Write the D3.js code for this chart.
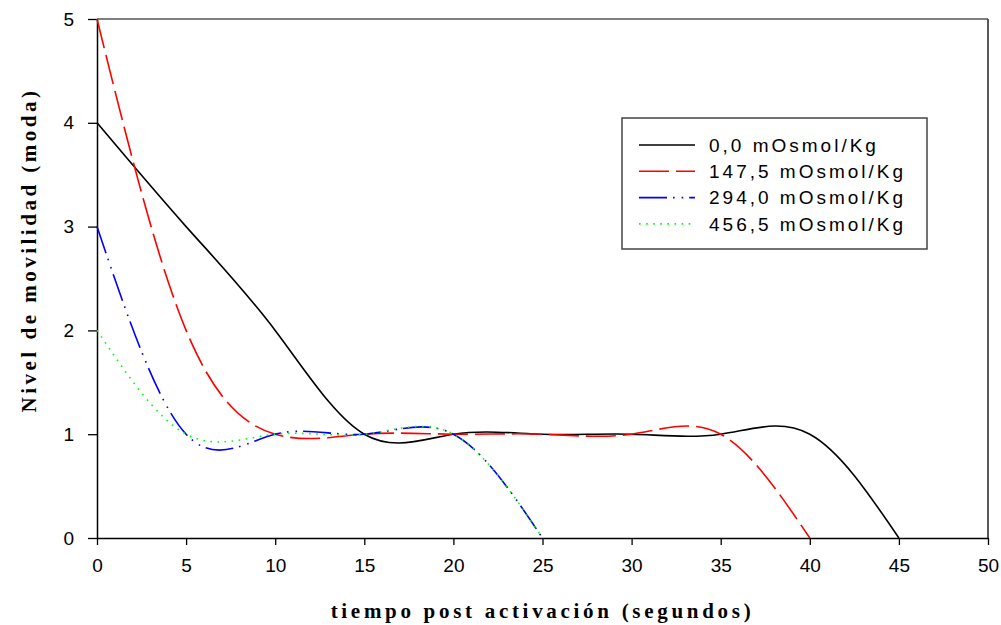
<!DOCTYPE html>
<html>
<head>
<meta charset="utf-8">
<script src="https://cdn.jsdelivr.net/npm/d3@7"></script>
<style>
  body { margin: 0; background: #fff; }
  svg { display: block; }
</style>
</head>
<body>
<svg id="chart"></svg>
<script>
// tiempo (s) sampled every 5 seconds
const tiempo = [0, 5, 10, 15, 20, 25, 30, 35, 40, 45];
const series = [
  { name: "0,0 mOsmol/Kg",   values: [4, 3, 2, 1, 1, 1, 1, 1, 1, 0] },
  { name: "147,5 mOsmol/Kg", values: [5, 2, 1, 1, 1, 1, 1, 1, 0] },
  { name: "294,0 mOsmol/Kg", values: [3, 1, 1, 1, 1, 0] },
  { name: "456,5 mOsmol/Kg", values: [2, 1, 1, 1, 1, 0] }
];
const xTicks = d3.range(0, 51, 5);
const yTicks = [0, 1, 2, 3, 4, 5];

const width = 1001, height = 625;
const margin = { top: 19, right: 13, bottom: 87, left: 97 };

const styles = [
  { color: "#000000", dash: null, w: 1.6 },
  { color: "#ff0000", dash: "30,7", w: 1.6 },
  { color: "#0000ff", dash: "28,6,1.6,7,1.6,6", w: 1.6 },
  { color: "#00ff00", dash: "1.6,5.5", w: 1.6 }
];

const svg = d3.select("#chart")
  .attr("width", width)
  .attr("height", height);

const x = d3.scaleLinear()
  .domain([0, 50])
  .range([margin.left, width - margin.right]);

const y = d3.scaleLinear()
  .domain([0, 5])
  .range([height - margin.bottom, margin.top]);

// frame: top and right
svg.append("line")
  .attr("x1", x(0)).attr("x2", x(50))
  .attr("y1", y(5)).attr("y2", y(5))
  .attr("stroke", "#555").attr("stroke-width", 1.5);
svg.append("line")
  .attr("x1", x(50)).attr("x2", x(50))
  .attr("y1", y(5)).attr("y2", y(0))
  .attr("stroke", "#222").attr("stroke-width", 1.5);

// x axis
svg.append("g")
  .attr("transform", `translate(0,${y(0)})`)
  .call(d3.axisBottom(x).tickValues(xTicks).tickSize(7).tickPadding(14).tickSizeOuter(0))
  .call(g => g.select(".domain").attr("stroke-width", 1.5))
  .call(g => g.selectAll(".tick line").attr("stroke-width", 1.3))
  .call(g => g.selectAll("text")
    .attr("font-family", "Liberation Sans, Arial, sans-serif")
    .attr("font-size", 19)
    .attr("fill", "#000"));

// y axis
svg.append("g")
  .attr("transform", `translate(${x(0)},0)`)
  .call(d3.axisLeft(y).tickValues(yTicks).tickFormat(d3.format("d"))
    .tickSize(9).tickPadding(14).tickSizeOuter(0))
  .call(g => g.select(".domain").attr("stroke-width", 1.5))
  .call(g => g.selectAll(".tick line").attr("stroke-width", 1.3))
  .call(g => g.selectAll("text")
    .attr("font-family", "Liberation Sans, Arial, sans-serif")
    .attr("font-size", 19)
    .attr("fill", "#000"));

// axis titles
svg.append("text")
  .attr("x", (x(0) + x(50)) / 2)
  .attr("y", 618)
  .attr("text-anchor", "middle")
  .attr("font-family", "Liberation Serif, Times New Roman, serif")
  .attr("font-weight", "bold")
  .attr("font-size", 21)
  .attr("letter-spacing", 3.7)
  .text("tiempo post activación (segundos)");

svg.append("text")
  .attr("transform", "translate(36,250) rotate(-90)")
  .attr("text-anchor", "middle")
  .attr("font-family", "Liberation Serif, Times New Roman, serif")
  .attr("font-weight", "bold")
  .attr("font-size", 21)
  .attr("letter-spacing", 3.5)
  .text("Nivel de movilidad (moda)");

// curves
const line = d3.line()
  .x(d => x(d[0]))
  .y(d => y(d[1]))
  .curve(d3.curveNatural);

svg.append("g")
  .attr("fill", "none")
  .selectAll("path")
  .data(series)
  .join("path")
  .attr("d", d => line(d.values.map((v, i) => [tiempo[i], v])))
  .attr("stroke", (d, i) => styles[i].color)
  .attr("stroke-width", (d, i) => styles[i].w)
  .attr("stroke-dasharray", (d, i) => styles[i].dash);

// legend
const legend = svg.append("g");
legend.append("rect")
  .attr("x", 622).attr("y", 118)
  .attr("width", 305).attr("height", 131)
  .attr("fill", "#fff")
  .attr("stroke", "#444")
  .attr("stroke-width", 1.5);

legend.selectAll("g")
  .data(series)
  .join("g")
  .attr("transform", (d, i) => `translate(639,${145 + i * 26.3})`)
  .call(g => g.append("line")
    .attr("x1", 0).attr("x2", 56)
    .attr("stroke", (d, i) => styles[i].color)
    .attr("stroke-width", styles[0].w)
    .attr("stroke-dasharray", (d, i) => styles[i].dash))
  .call(g => g.append("text")
    .attr("x", 70)
    .attr("dy", "0.36em")
    .attr("font-family", "Liberation Sans, Arial, sans-serif")
    .attr("font-size", 19)
    .attr("letter-spacing", 3)
    .text(d => d.name));
</script>
</body>
</html>
